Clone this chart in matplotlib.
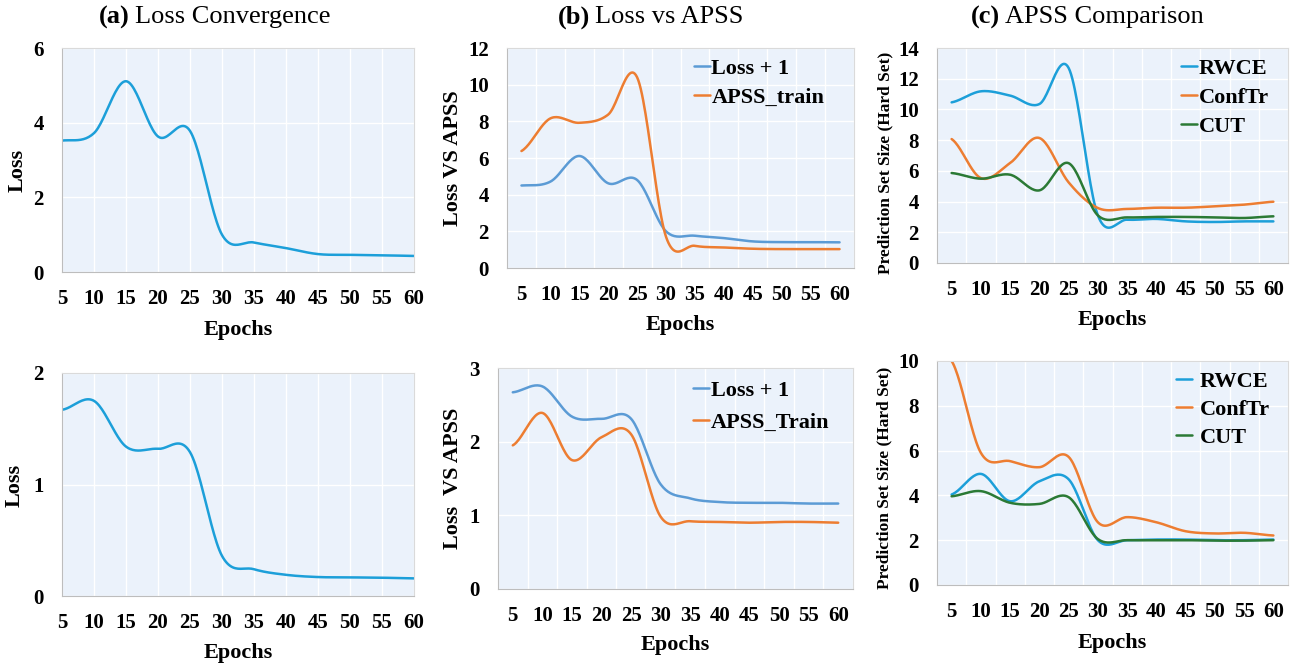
import numpy as np
import matplotlib
matplotlib.use("Agg")
import matplotlib.pyplot as plt

plt.rcParams["font.family"] = ["Liberation Serif", "DejaVu Serif"]

# ---- data ------------------------------------------------------------------
epochs = [5, 10, 15, 20, 25, 30, 35, 40, 45, 50, 55, 60]

loss_top = [3.52, 3.72, 5.11, 3.63, 3.78, 1.0, 0.79, 0.64, 0.48, 0.46, 0.45, 0.43]
loss_bot = [1.67, 1.75, 1.34, 1.32, 1.29, 0.36, 0.24, 0.19, 0.17, 0.167, 0.164, 0.158]

lossp1_top = [4.50, 4.71, 6.11, 4.62, 4.80, 2.0, 1.76, 1.63, 1.45, 1.41, 1.41, 1.40]
apss_train_top = [6.38, 8.16, 7.92, 8.37, 10.4, 1.7, 1.21, 1.12, 1.05, 1.03, 1.03, 1.03]
lossp1_bot = [2.67, 2.75, 2.34, 2.31, 2.31, 1.42, 1.23, 1.18, 1.17, 1.17, 1.16, 1.16]
apss_train_bot = [1.95, 2.39, 1.75, 2.06, 2.10, 0.98, 0.92, 0.91, 0.90, 0.91, 0.91, 0.90]

rwce_top = [10.46, 11.18, 10.9, 10.35, 12.7, 3.1, 2.82, 2.87, 2.71, 2.67, 2.71, 2.71]
conftr_top = [8.07, 5.53, 6.51, 8.14, 5.25, 3.58, 3.52, 3.60, 3.60, 3.69, 3.80, 3.99]
cut_top = [5.86, 5.49, 5.75, 4.73, 6.5, 3.1, 2.97, 3.0, 3.0, 2.97, 2.93, 3.04]

rwce_bot = [4.04, 4.96, 3.74, 4.63, 4.72, 2.0, 2.0, 2.03, 2.03, 2.0, 2.0, 2.03]
conftr_bot = [10.0, 5.9, 5.53, 5.26, 5.72, 2.8, 3.03, 2.80, 2.40, 2.30, 2.33, 2.21]
cut_bot = [3.96, 4.19, 3.67, 3.62, 3.92, 2.05, 2.0, 2.0, 2.0, 1.98, 1.98, 2.0]

SKY = "#1C9FD9"
BLUE = "#5B9BD5"
ORANGE = "#ED7D31"
GREEN = "#2B7A35"
BG = "#EBF2FB"

W, H = 1298, 671


def smooth(ys, n=24):
    """Excel-style smoothed line (Catmull-Rom through the points)."""
    ys = np.asarray(ys, float)
    p = np.concatenate([[ys[0]], ys, [ys[-1]]])
    xs_out, ys_out = [], []
    t = np.linspace(0, 1, n, endpoint=False)
    for i in range(len(ys) - 1):
        p0, p1, p2, p3 = p[i], p[i + 1], p[i + 2], p[i + 3]
        m1 = (p2 - p0) / 2
        m2 = (p3 - p1) / 2
        h00 = 2 * t**3 - 3 * t**2 + 1
        h10 = t**3 - 2 * t**2 + t
        h01 = -2 * t**3 + 3 * t**2
        h11 = t**3 - t**2
        xs_out.append(i + t)
        ys_out.append(h00 * p1 + h10 * m1 + h01 * p2 + h11 * m2)
    xs_out.append([len(ys) - 1])
    ys_out.append([ys[-1]])
    return np.concatenate(xs_out), np.concatenate(ys_out)


def make_ax(fig, left, right, top, bottom):
    return fig.add_axes([left / W, 1 - bottom / H, (right - left) / W, (bottom - top) / H])


def style(ax, ylim, yticks, on_ticks, ylabel, ylab_fs, ylab_x, ylab_y, xlab_y):
    ax.set_facecolor(BG)
    n = len(epochs)
    ax.set_xticks(range(n))
    ax.set_xticklabels([str(e) for e in epochs])
    if on_ticks:
        ax.set_xlim(0, n - 1)
        ax.grid(axis="x", color="white", lw=1.0)
    else:
        ax.set_xlim(-0.5, n - 0.5)
        ax.set_xticks(np.arange(-0.5, n, 1.0), minor=True)
        ax.grid(axis="x", which="minor", color="white", lw=1.0)
    ax.set_ylim(*ylim)
    ax.set_yticks(yticks)
    ax.grid(axis="y", color="white", lw=1.0)
    ax.set_axisbelow(True)
    ax.tick_params(which="both", length=0)
    ax.tick_params(axis="x", pad=12, labelsize=15)
    ax.tick_params(axis="y", pad=13, labelsize=15)
    for lab in ax.get_xticklabels() + ax.get_yticklabels():
        lab.set_fontweight("bold")
    for side in ["top", "right"]:
        ax.spines[side].set_color("#DADADA")
    for side in ["left", "bottom"]:
        ax.spines[side].set_color("#BDBDBD")

    # axis labels placed by pixel centre
    bb = ax.get_position()
    ax.set_xlabel("Epochs", fontsize=16, fontweight="bold")
    ax.xaxis.label.set_va("center")
    ax.xaxis.set_label_coords(0.5, ((H - xlab_y) / H - bb.y0) / bb.height)
    ax.set_ylabel(ylabel, fontsize=ylab_fs, fontweight="bold")
    ax.yaxis.label.set_va("center")
    ax.yaxis.label.set_ha("center")
    ax.yaxis.set_label_coords((ylab_x / W - bb.x0) / bb.width,
                              ((H - ylab_y) / H - bb.y0) / bb.height)


def draw(ax, series):
    for ys, color, label in series:
        xs, yy = smooth(ys)
        ax.plot(xs, yy, color=color, lw=1.8, label=label, solid_capstyle="round")


def legend(ax, x, y, textpad, spacing):
    ax.legend(loc="upper left", bbox_to_anchor=(x, y), frameon=False,
              prop={"weight": "bold", "size": 16}, handlelength=0.72,
              handletextpad=textpad, borderpad=0, labelspacing=spacing,
              borderaxespad=0)


fig = plt.figure(figsize=(W / 100, H / 100), dpi=100)

# (a) Loss Convergence
ax = make_ax(fig, 62, 414, 48, 272)
draw(ax, [(loss_top, SKY, None)])
style(ax, (0, 6), [0, 2, 4, 6], True, "Loss", 16, 18, 170, 330)

ax = make_ax(fig, 62, 414, 373, 596)
draw(ax, [(loss_bot, SKY, None)])
style(ax, (0, 2), [0, 1, 2], True, "Loss", 16, 15, 485, 653)

# (b) Loss vs APSS
ax = make_ax(fig, 507, 854, 48, 268)
draw(ax, [(lossp1_top, BLUE, "Loss + 1"), (apss_train_top, ORANGE, "APSS_train")])
style(ax, (0, 12), [0, 2, 4, 6, 8, 10, 12], False, "Loss VS APSS", 16, 453, 158, 325)
legend(ax, 0.54, 0.953, 0.05, 0.38)

ax = make_ax(fig, 498, 853, 368, 589)
draw(ax, [(lossp1_bot, BLUE, "Loss + 1"), (apss_train_bot, ORANGE, "APSS_Train")])
style(ax, (0, 3), [0, 1, 2, 3], False, "Loss  VS APSS", 16, 453, 478, 645)
legend(ax, 0.548, 0.943, 0.1, 0.5)

# (c) APSS Comparison
ax = make_ax(fig, 937, 1288, 48, 263)
draw(ax, [(rwce_top, SKY, "RWCE"), (conftr_top, ORANGE, "ConfTr"), (cut_top, GREEN, "CUT")])
style(ax, (0, 14), [0, 2, 4, 6, 8, 10, 12, 14], False,
      "Prediction Set Size (Hard Set)", 12.5, 885, 163, 320)
legend(ax, 0.696, 0.952, 0.05, 0.38)

ax = make_ax(fig, 937, 1288, 361, 585)
draw(ax, [(rwce_bot, SKY, "RWCE"), (conftr_bot, ORANGE, "ConfTr"), (cut_bot, GREEN, "CUT")])
style(ax, (0, 10), [0, 2, 4, 6, 8, 10], False,
      "Prediction Set Size (Hard Set)", 12.5, 884, 478, 643)
legend(ax, 0.68, 0.954, 0.35, 0.33)

# panel titles: bold tag + regular text
for tag, rest, x_split, y in [("(a)", "Loss Convergence", 130, 17),
                               ("(b)", "Loss vs APSS", 590, 17),
                               ("(c)", "APSS Comparison", 1000, 17)]:
    fig.text(x_split / W, 1 - y / H, tag, ha="right", va="center",
             fontsize=19, fontweight="bold")
    fig.text((x_split + 5) / W, 1 - y / H, rest, ha="left", va="center", fontsize=19)

fig.savefig("out.png", dpi=100)
